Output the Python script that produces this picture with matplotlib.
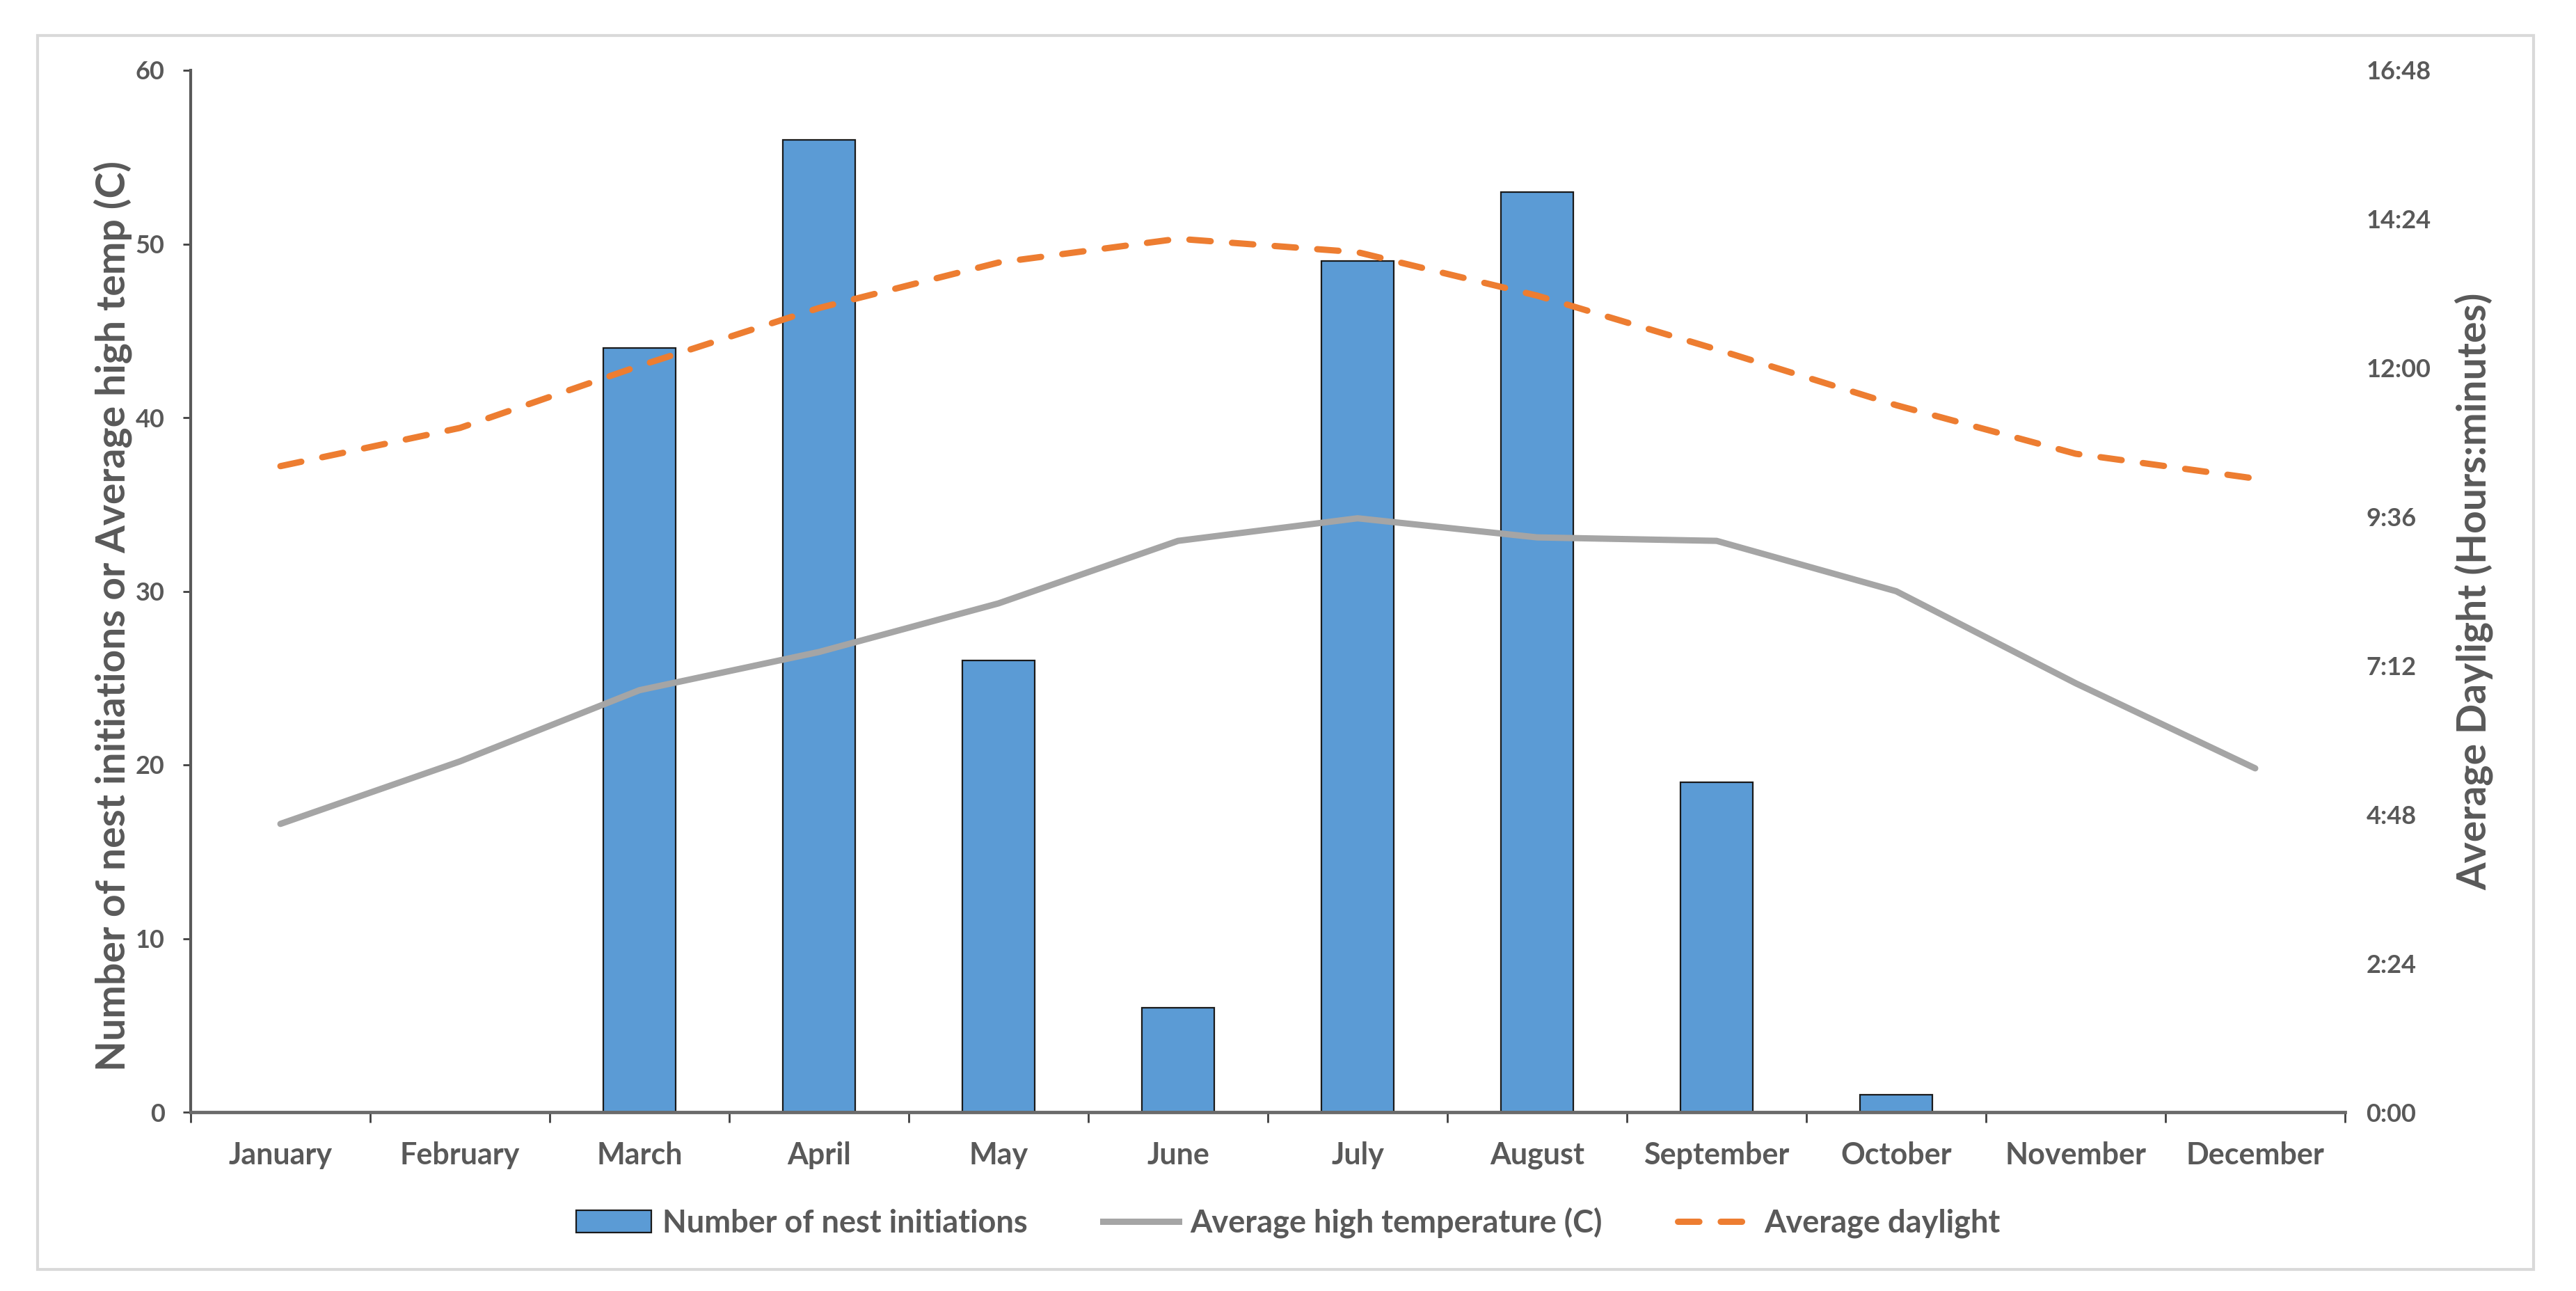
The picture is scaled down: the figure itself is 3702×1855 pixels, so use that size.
import matplotlib
matplotlib.use("Agg")
import matplotlib.pyplot as plt
import numpy as np
from matplotlib.patches import Rectangle
from matplotlib.lines import Line2D
from matplotlib.ticker import FuncFormatter

months = ["January", "February", "March", "April", "May", "June", "July",
          "August", "September", "October", "November", "December"]
nest_initiations = [0, 0, 44, 56, 26, 6, 49, 53, 19, 1, 0, 0]
avg_high_temp = [16.6, 20.2, 24.3, 26.5, 29.3, 32.9, 34.2, 33.1, 32.9, 30.0, 24.7, 19.8]
avg_daylight = ["10:25", "11:02", "12:02", "12:58", "13:42", "14:05", "13:52",
                "13:10", "12:18", "11:24", "10:37", "10:13"]
left_ticks = [0, 10, 20, 30, 40, 50, 60]
right_ticks_min = [0, 144, 288, 432, 576, 720, 864, 1008]

daylight_min = [int(s.split(":")[0]) * 60 + int(s.split(":")[1]) for s in avg_daylight]

FONT = ["Lato", "DejaVu Sans"]
plt.rcParams["font.family"] = FONT
TXT = "#595959"

W, H = 3702, 1855
fig = plt.figure(figsize=(W / 100, H / 100), dpi=100)
fig.patch.set_facecolor("white")

x0, x1, ytop, ybot = 274, 3370, 101, 1598
ax = fig.add_axes([x0 / W, 1 - ybot / H, (x1 - x0) / W, (ybot - ytop) / H])
ax2 = ax.twinx()

DASH = (0, (3.4, 3.4))
x = np.arange(len(months))
ax.bar(x, nest_initiations, width=0.4, color="#5B9BD5", edgecolor="#1a1a1a",
       linewidth=1.6, zorder=2)
ax.plot(x, avg_high_temp, color="#A5A5A5", linewidth=6.5, solid_capstyle="round", zorder=3)
ax2.plot(x, daylight_min, color="#ED7D31", linewidth=6.5, linestyle=DASH,
         dash_capstyle="round", zorder=3)

ax.set_xlim(-0.5, len(months) - 0.5)
ax.set_ylim(0, 60)
ax2.set_ylim(0, 1008)

ax.set_yticks(left_ticks)
ax.tick_params(axis="y", which="major", length=8, width=2, color="#404040",
               labelsize=26, labelcolor=TXT, pad=19)
for lab in ax.get_yticklabels():
    lab.set_fontweight("bold")

ax.set_xticks(np.arange(len(months) + 1) - 0.5)
ax.set_xticklabels([])
ax.set_xticks(x, minor=True)
ax.set_xticklabels(months, minor=True)
ax.tick_params(axis="x", which="major", length=11, width=2, color="#404040", direction="out")
ax.tick_params(axis="x", which="minor", length=0, labelsize=31, labelcolor=TXT, pad=30)
for lab in ax.get_xticklabels(minor=True):
    lab.set_fontweight("bold")

ax2.set_yticks(right_ticks_min)
ax2.yaxis.set_major_formatter(FuncFormatter(lambda v, p: f"{int(v)//60}:{int(v)%60:02d}"))
ax2.tick_params(axis="y", length=0, labelsize=26, labelcolor=TXT, pad=22)
for lab in ax2.get_yticklabels():
    lab.set_fontweight("bold")

for s in ["top", "right"]:
    ax.spines[s].set_visible(False)
for s in ["top", "right", "left", "bottom"]:
    ax2.spines[s].set_visible(False)
ax.spines["left"].set_color("#595959")
ax.spines["left"].set_linewidth(3)
ax.spines["bottom"].set_color("#6b6b6b")
ax.spines["bottom"].set_linewidth(3.5)
ax.spines["bottom"].set_zorder(4)

fig.text(162 / W, 1 - 885 / H, "Number of nest initiations or Average high temp (C)",
         rotation=90, ha="center", va="center", fontsize=41, color=TXT, fontweight="bold")
fig.text(3555 / W, 1 - 850 / H, "Average Daylight (Hours:minutes)",
         rotation=90, ha="center", va="center", fontsize=41, color=TXT, fontweight="bold")

handles = [
    Rectangle((0, 0), 1, 1, facecolor="#5B9BD5", edgecolor="#1a1a1a", linewidth=1.6),
    Line2D([], [], color="#A5A5A5", linewidth=6.5),
    Line2D([], [], color="#ED7D31", linewidth=6.5, linestyle=DASH, dash_capstyle="round"),
]
labels = ["Number of nest initiations", "Average high temperature (C)", "Average daylight"]
leg = fig.legend(handles, labels, loc="center", bbox_to_anchor=(0.5, 1 - 1757 / H),
                 ncol=3, frameon=False, fontsize=32.5, handlelength=2.4,
                 handleheight=0.7, handletextpad=0.36, columnspacing=2.4)
for t in leg.get_texts():
    t.set_color(TXT)
    t.set_fontweight("bold")

fig.patches.append(Rectangle((54 / W, 1 - 1824 / H), (3641 - 54) / W, (1824 - 51) / H,
                             transform=fig.transFigure, fill=False,
                             edgecolor="#d9d9d9", linewidth=3))

fig.savefig("out.png", dpi=100, facecolor="white")
